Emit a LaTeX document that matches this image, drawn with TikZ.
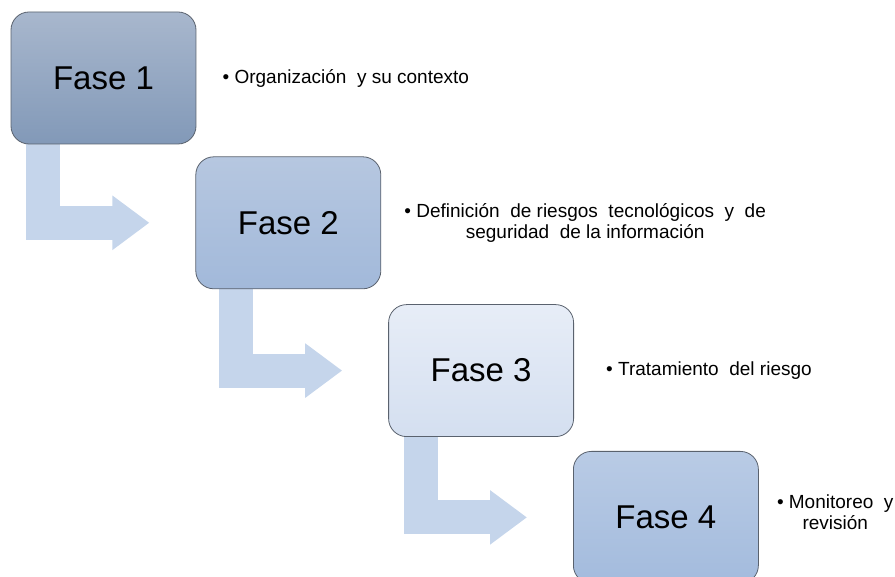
\documentclass[tikz,border=0pt]{standalone}
\usepackage{fontspec}
\setmainfont{Liberation Sans}
\usetikzlibrary{positioning,calc,arrows.meta,backgrounds}

\definecolor{borde}{HTML}{5A626E}
\definecolor{flechaazul}{HTML}{C5D5EB}
\definecolor{unoarriba}{HTML}{A8B7CD}
\definecolor{unoabajo}{HTML}{8299B8}
\definecolor{dosarriba}{HTML}{B6C7E0}
\definecolor{dosabajo}{HTML}{A2B9DA}
\definecolor{tresarriba}{HTML}{E7EDF7}
\definecolor{tresabajo}{HTML}{D4DFF0}
\definecolor{cuatroarriba}{HTML}{B9CBE5}
\definecolor{cuatroabajo}{HTML}{A3BBDD}

\begin{document}
\begin{tikzpicture}[x=1pt,y=1pt,node distance=12pt,
    fase/.style={draw=borde,line width=0.8pt,rounded corners=18pt,
      minimum width=185pt,minimum height=132pt,inner sep=0pt,
      font=\fontsize{33}{39}\selectfont},
    nota/.style={inner sep=0pt,align=center,
      font=\fontsize{19}{21}\selectfont},
    flecha/.style={draw=flechaazul,line width=34pt,line join=miter,
      -{Triangle[width=52pt,length=37pt]}}]
  \useasboundingbox (0,0) rectangle (895,-577);

  %--- Phases ---
  \node[fase,top color=unoarriba,bottom color=unoabajo]       (f1) at (103.5,-78) {Fase 1};
  \node[fase,top color=dosarriba,bottom color=dosabajo]       (f2) [below right=12pt and -1pt of f1] {Fase 2};
  \node[fase,top color=tresarriba,bottom color=tresabajo]     (f3) [below right=15pt and 7pt of f2] {Fase 3};
  \node[fase,top color=cuatroarriba,bottom color=cuatroabajo] (f4) [below right=14pt and -1pt of f3] {Fase 4};

  %--- Notes ---
  \node[nota] (n1) [right=26pt of f1] {\textbullet\ Organización\ \ y su contexto};
  \node[nota] (n2) [right=23pt of f2] {\textbullet\ Definición\ \ de riesgos\ \ tecnológicos\ \ y\ \ de\\ seguridad\ \ de la información};
  \node[nota] (n3) [right=32pt of f3] {\textbullet\ Tratamiento\ \ del riesgo};
  \node[nota] (n4) [right=18pt of f4, yshift=5pt] {\textbullet\ Monitoreo\ \ y\\ revisión};

  %--- Bent arrows (behind the boxes) ---
  \coordinate (t1) at ($(f2.west)+(-46,0)$);
  \coordinate (t2) at ($(f3.west)+(-46,0)$);
  \coordinate (t3) at ($(f4.west)+(-46,0)$);
  \begin{scope}[on background layer]
    \draw[flecha] ($(f1.south -| t1)+(-106,10)$) |- (t1);
    \draw[flecha] ($(f2.south -| t2)+(-106,10)$) |- (t2);
    \draw[flecha] ($(f3.south -| t3)+(-106,10)$) |- (t3);
  \end{scope}
\end{tikzpicture}
\end{document}
